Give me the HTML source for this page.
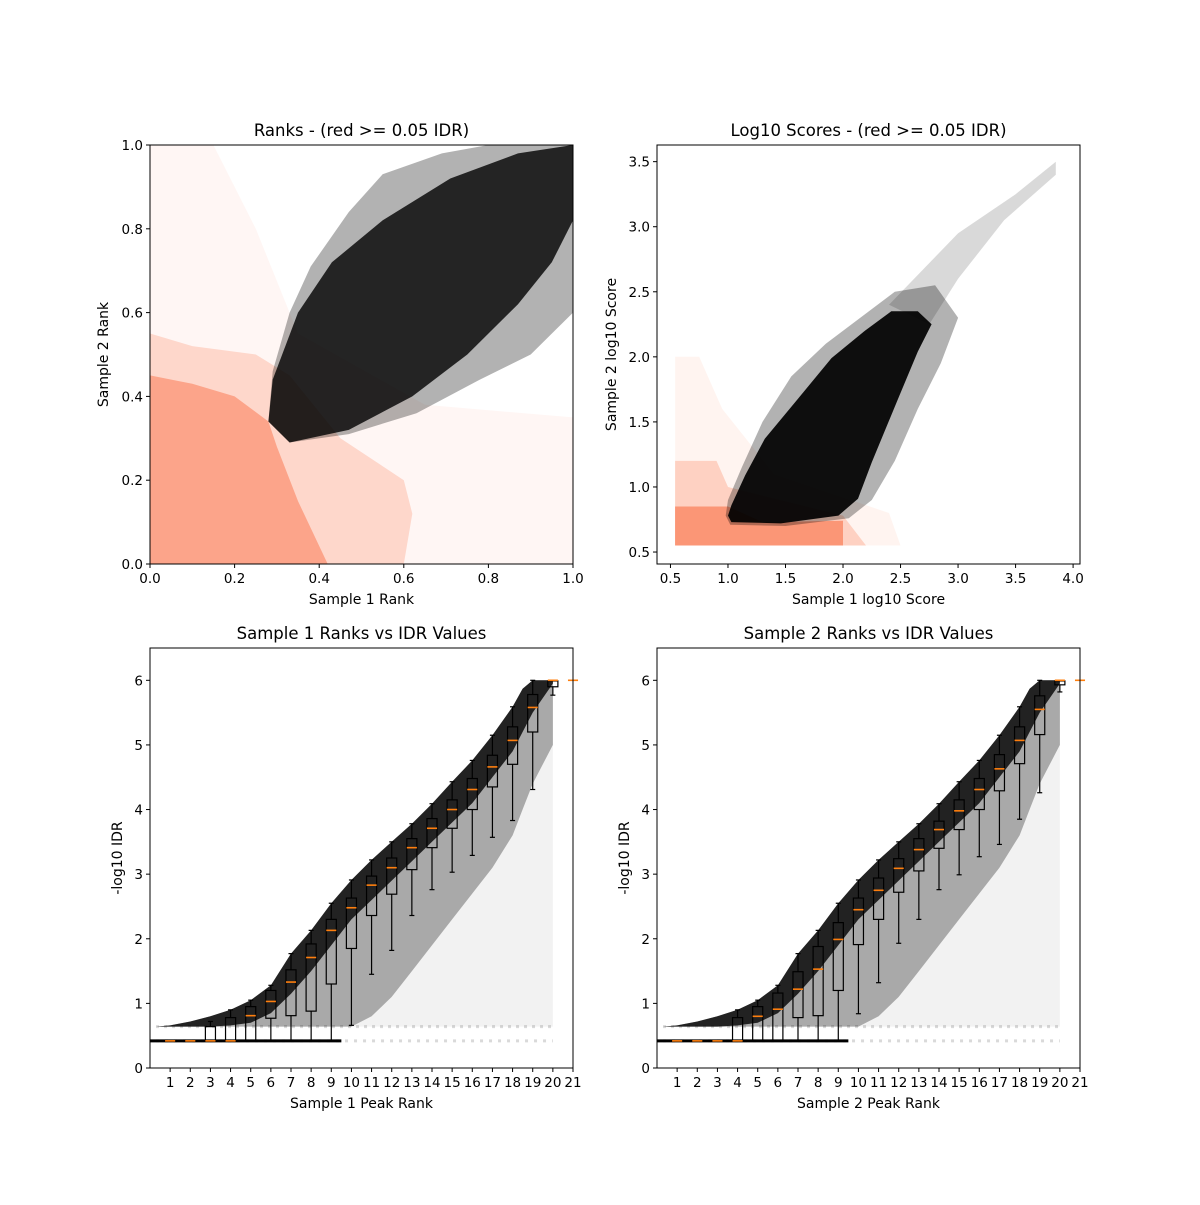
<!DOCTYPE html>
<html><head><meta charset="utf-8">
<style>
html,body{margin:0;padding:0;background:#fff;}
svg text{font-family:"DejaVu Sans","Liberation Sans",sans-serif;fill:#000;}
</style></head>
<body>
<svg id="fig" width="1200" height="1200" viewBox="0 0 1200 1200" xmlns="http://www.w3.org/2000/svg"></svg>
<script>
// ---------- data ----------
const rankBlackX = [0.28,0.29,0.35,0.43,0.55,0.71,0.87,1.00,1.00,0.95,0.87,0.75,0.62,0.47,0.33];
const rankBlackY = [0.34,0.44,0.60,0.72,0.82,0.92,0.98,1.00,0.82,0.72,0.62,0.50,0.40,0.32,0.29];
const rankBlackOuterX = [0.28,0.29,0.33,0.38,0.47,0.55,0.69,0.80,1.00,1.00,0.90,0.78,0.63,0.47,0.33];
const rankBlackOuterY = [0.34,0.46,0.60,0.71,0.84,0.93,0.98,1.00,1.00,0.60,0.50,0.44,0.36,0.31,0.29];
const rankSalmonDenseX = [0,0.42,0.35,0.30,0.28,0.20,0.10,0];
const rankSalmonDenseY = [0,0,0.15,0.28,0.34,0.40,0.43,0.45];
const rankSalmonMidX = [0,0.60,0.62,0.60,0.45,0.33,0.25,0.10,0];
const rankSalmonMidY = [0,0,0.12,0.20,0.30,0.45,0.50,0.52,0.55];
const rankSalmonSparseX = [0,1.0,1.0,0.65,0.35,0.25,0.15,0];
const rankSalmonSparseY = [0,0,0.35,0.38,0.55,0.80,1.0,1.0];
const scoreBlackX = [1.00,1.03,1.46,1.96,2.13,2.25,2.48,2.65,2.77,2.65,2.42,2.19,1.90,1.61,1.32,1.15,1.03];
const scoreBlackY = [0.78,0.73,0.72,0.78,0.91,1.19,1.68,2.04,2.25,2.35,2.35,2.20,1.99,1.68,1.37,1.09,0.86];
const scoreHaloX = [0.98,1.02,1.50,2.05,2.25,2.45,2.65,2.85,3.00,2.80,2.45,2.15,1.85,1.55,1.30,1.12,1.00];
const scoreHaloY = [0.78,0.71,0.70,0.76,0.90,1.20,1.60,1.95,2.30,2.55,2.50,2.30,2.10,1.85,1.50,1.15,0.90];
const scoreTailX = [2.40,3.00,3.50,3.85,3.85,3.40,3.00,2.75];
const scoreTailY = [2.40,2.95,3.25,3.50,3.40,3.05,2.60,2.25];
const scoreSalmonDenseX = [0.54,2.00,2.00,1.30,1.00,0.54];
const scoreSalmonDenseY = [0.55,0.55,0.74,0.73,0.85,0.85];
const scoreSalmonMidX = [0.54,2.20,2.00,1.00,0.90,0.54];
const scoreSalmonMidY = [0.55,0.55,0.78,1.00,1.20,1.20];
const scoreSalmonSparseX = [0.54,2.50,2.40,1.40,0.95,0.75,0.54];
const scoreSalmonSparseY = [0.55,0.55,0.80,1.10,1.60,2.00,2.00];
const envX     = [0.3,1,2,3,4,5,6,7,8,9,10,11,12,13,14,15,16,17,18,18.5,19,20];
const envTop   = [0.64,0.66,0.72,0.80,0.90,1.05,1.28,1.77,2.13,2.55,2.91,3.22,3.50,3.78,4.09,4.43,4.76,5.15,5.59,5.87,6.0,6.0];
const envCore  = [0.64,0.64,0.64,0.64,0.66,0.70,0.85,1.15,1.50,1.90,2.30,2.60,2.90,3.20,3.50,3.80,4.10,4.50,4.90,5.20,5.50,5.95];
const envMid   = [0.64,0.64,0.64,0.64,0.64,0.64,0.64,0.64,0.64,0.64,0.64,0.80,1.10,1.50,1.90,2.30,2.70,3.10,3.60,4.00,4.40,5.00];
const boxRanks = [1,2,3,4,5,6,7,8,9,10,11,12,13,14,15,16,17,18,19,20,21];
const s1Med = [0.42,0.42,0.42,0.42,0.81,1.03,1.33,1.71,2.13,2.48,2.83,3.10,3.41,3.71,4.00,4.31,4.66,5.07,5.58,6.00,6.00];
const s1Q1  = [0.42,0.42,0.42,0.42,0.42,0.77,0.81,0.88,1.30,1.85,2.36,2.69,3.07,3.41,3.71,4.00,4.35,4.70,5.20,5.90,6.00];
const s1Q3  = [0.42,0.42,0.64,0.78,0.95,1.20,1.52,1.92,2.30,2.63,2.97,3.25,3.55,3.86,4.15,4.48,4.84,5.28,5.78,5.99,6.00];
const s1Lo  = [0.42,0.42,0.42,0.42,0.42,0.42,0.42,0.42,0.42,0.66,1.45,1.82,2.36,2.76,3.03,3.29,3.57,3.83,4.31,5.77,6.00];
const s1Hi  = [0.42,0.42,0.72,0.90,1.05,1.28,1.77,2.13,2.55,2.91,3.22,3.50,3.78,4.09,4.43,4.76,5.15,5.59,6.00,6.00,6.00];
const s2Med = [0.42,0.42,0.42,0.42,0.80,0.91,1.22,1.53,1.99,2.45,2.75,3.09,3.38,3.69,3.98,4.31,4.63,5.07,5.55,6.00,6.00];
const s2Q1  = [0.42,0.42,0.42,0.42,0.42,0.42,0.78,0.81,1.20,1.91,2.30,2.72,3.05,3.40,3.69,4.00,4.29,4.71,5.16,5.93,6.00];
const s2Q3  = [0.42,0.42,0.42,0.78,0.95,1.16,1.49,1.88,2.25,2.63,2.94,3.24,3.55,3.82,4.15,4.48,4.85,5.28,5.76,5.99,6.00];
const s2Lo  = [0.42,0.42,0.42,0.42,0.42,0.42,0.42,0.42,0.42,0.84,1.32,1.93,2.30,2.76,2.99,3.27,3.46,3.85,4.26,5.82,6.00];
const s2Hi  = [0.42,0.42,0.42,0.90,1.05,1.28,1.77,2.13,2.55,2.91,3.22,3.50,3.78,4.09,4.43,4.76,5.15,5.59,6.00,6.00,6.00];
const rankTicks = [0,0.2,0.4,0.6,0.8,1.0];
const rankTickLabels = ["0.0","0.2","0.4","0.6","0.8","1.0"];
const scoreXTicks = [0.5,1.0,1.5,2.0,2.5,3.0,3.5,4.0];
const scoreXTickLabels = ["0.5","1.0","1.5","2.0","2.5","3.0","3.5","4.0"];
const scoreYTicks = [0.5,1.0,1.5,2.0,2.5,3.0,3.5];
const scoreYTickLabels = ["0.5","1.0","1.5","2.0","2.5","3.0","3.5"];
const idrYTicks = [0,1,2,3,4,5,6];
const idrYTickLabels = ["0","1","2","3","4","5","6"];
const peakTicks = [1,2,3,4,5,6,7,8,9,10,11,12,13,14,15,16,17,18,19,20,21];
const peakTickLabels = ["1","2","3","4","5","6","7","8","9","10","11","12","13","14","15","16","17","18","19","20","21"];

// ---------- drawing ----------
const NS = "http://www.w3.org/2000/svg";
const fig = document.getElementById("fig");
function mk(tag, attrs, parent){
  const e = document.createElementNS(NS, tag);
  for (const k in attrs) e.setAttribute(k, attrs[k]);
  (parent||fig).appendChild(e);
  return e;
}
function makeAxes(px0,px1,py0,py1,xmin,xmax,ymin,ymax){
  return {px0,px1,py0,py1,
    sx: v => px0 + (v - xmin)/(xmax - xmin)*(px1 - px0),
    sy: v => py1 - (v - ymin)/(ymax - ymin)*(py1 - py0)};
}
function poly(ax, xs, ys, fill, op, name, parent){
  const pts = xs.map((x,i)=> ax.sx(x).toFixed(1)+","+ax.sy(ys[i]).toFixed(1)).join(" ");
  const p = mk("polygon",{points:pts, fill:fill, "fill-opacity":op}, parent);
  
  
  return p;
}
function band(ax, xs, top, bot, fill, op, name, parent){
  const X = xs.concat(xs.slice().reverse());
  const Y = top.concat(bot.slice().reverse());
  return poly(ax, X, Y, fill, op, name, parent);
}
function frame(ax, key, title, xlabel, ylabel, xt, xtl, yt, ytl, ylabX){
  const g = mk("g",{});
  
  
  const r = mk("rect",{x:ax.px0,y:ax.py0,width:ax.px1-ax.px0,height:ax.py1-ax.py0,fill:"none",stroke:"#000","stroke-width":1}, g);
  
  
  xt.forEach((v,i)=>{
    const x = ax.sx(v);
    const t = mk("line",{x1:x,x2:x,y1:ax.py1,y2:ax.py1+4,stroke:"#000","stroke-width":1}, g);
    
    
    const l = mk("text",{x:x,y:ax.py1+19,"font-size":"13.5","text-anchor":"middle"}, g);
    
    
    l.textContent = xtl[i];
  });
  yt.forEach((v,i)=>{
    const y = ax.sy(v);
    const t = mk("line",{x1:ax.px0-4,x2:ax.px0,y1:y,y2:y,stroke:"#000","stroke-width":1}, g);
    
    
    const l = mk("text",{x:ax.px0-7,y:y+5,"font-size":"13.5","text-anchor":"end"}, g);
    
    
    l.textContent = ytl[i];
  });
  const tt = mk("text",{x:(ax.px0+ax.px1)/2,y:ax.py0-9,"font-size":"16.5","text-anchor":"middle"}, g);
  
  
  tt.textContent = title;
  const xl = mk("text",{x:(ax.px0+ax.px1)/2,y:ax.py1+40,"font-size":"14","text-anchor":"middle"}, g);
  
  
  xl.textContent = xlabel;
  const cy = (ax.py0+ax.py1)/2;
  const yl = mk("text",{x:ylabX,y:cy,"font-size":"14","text-anchor":"middle",transform:"rotate(-90 "+ylabX+" "+cy+")"}, g);
  
  
  yl.textContent = ylabel;
}
const SAL = "#fb8f6e";

// Top-left
const axTL = makeAxes(150,573,145,564,0,1,0,1);
const gTL = mk("g",{});


poly(axTL, rankSalmonSparseX, rankSalmonSparseY, SAL, 0.08, 'salmon-sparse-points', gTL);
poly(axTL, rankSalmonMidX, rankSalmonMidY, SAL, 0.3, 'salmon-mid-points', gTL);
poly(axTL, rankSalmonDenseX, rankSalmonDenseY, SAL, 0.7, 'salmon-dense-points', gTL);
poly(axTL, rankBlackOuterX, rankBlackOuterY, "#000", 0.3, 'black-sparse-points', gTL);
poly(axTL, rankBlackX, rankBlackY, "#000", 0.8, 'black-points', gTL);
frame(axTL,'ranks','Ranks - (red >= 0.05 IDR)','Sample 1 Rank','Sample 2 Rank',rankTicks,rankTickLabels,rankTicks,rankTickLabels,108);

// Top-right
const axTR = makeAxes(657,1080,145,564,0.383,4.06,0.408,3.628);
const gTR = mk("g",{});


poly(axTR, scoreSalmonSparseX, scoreSalmonSparseY, SAL, 0.1, 'salmon-sparse-points', gTR);
poly(axTR, scoreSalmonMidX, scoreSalmonMidY, SAL, 0.35, 'salmon-mid-points', gTR);
poly(axTR, scoreSalmonDenseX, scoreSalmonDenseY, SAL, 0.9, 'salmon-dense-points', gTR);
poly(axTR, scoreTailX, scoreTailY, "#000", 0.15, 'black-tail-points', gTR);
poly(axTR, scoreHaloX, scoreHaloY, "#000", 0.3, 'black-halo-points', gTR);
poly(axTR, scoreBlackX, scoreBlackY, "#000", 0.92, 'black-points', gTR);
frame(axTR,'scores','Log10 Scores - (red >= 0.05 IDR)','Sample 1 log10 Score','Sample 2 log10 Score',scoreXTicks,scoreXTickLabels,scoreYTicks,scoreYTickLabels,616);

// Bottom panels
function idrPanel(ax, key, med, q1, q3, lo, hi, title, xlabel, ylabX, denseEnd){
  const g = mk("g",{});
  
  
  const floor = envX.map(()=>0.64);
  band(ax, envX, envTop, floor, "#000", 0.05, key + '-sparse-points', g);
  band(ax, envX, envTop, envMid, "#000", 0.3, key + '-mid-points', g);
  band(ax, envX, envTop, envCore, "#000", 0.8, key + '-core-points', g);
  const r064 = mk("line",{x1:ax.sx(0.3),x2:ax.sx(20),y1:ax.sy(0.64),y2:ax.sy(0.64),stroke:"#000","stroke-opacity":0.15,"stroke-width":3,"stroke-dasharray":"3 5"}, g);
  
  
  const dl = mk("line",{x1:ax.sx(0.3),x2:ax.sx(20),y1:ax.sy(0.42),y2:ax.sy(0.42),stroke:"#000","stroke-opacity":0.15,"stroke-width":3,"stroke-dasharray":"3 6"}, g);
  
  
  const zl = mk("line",{x1:ax.px0,x2:ax.sx(denseEnd),y1:ax.sy(0.42),y2:ax.sy(0.42),stroke:"#000","stroke-width":3}, g);
  
  
  boxRanks.forEach((rk,i)=>{
    const bg = mk("g",{}, g);
    
    
    const x = ax.sx(rk), hw = (ax.sx(0.25)-ax.sx(0)), cw = (ax.sx(0.125)-ax.sx(0));
    if (q3[i] > q1[i]) {
      const b = mk("rect",{x:x-hw,y:ax.sy(q3[i]),width:2*hw,height:ax.sy(q1[i])-ax.sy(q3[i]),fill:"none",stroke:"#000","stroke-width":1.2}, bg);
      
      
    }
    if (lo[i] < q1[i]) {
      const w = mk("line",{x1:x,x2:x,y1:ax.sy(q1[i]),y2:ax.sy(lo[i]),stroke:"#000","stroke-width":1.2}, bg);
      
      
      const c = mk("line",{x1:x-cw,x2:x+cw,y1:ax.sy(lo[i]),y2:ax.sy(lo[i]),stroke:"#000","stroke-width":1.2}, bg);
      
      
    }
    if (hi[i] > q3[i]) {
      const w = mk("line",{x1:x,x2:x,y1:ax.sy(q3[i]),y2:ax.sy(hi[i]),stroke:"#000","stroke-width":1.2}, bg);
      
      
      const c = mk("line",{x1:x-cw,x2:x+cw,y1:ax.sy(hi[i]),y2:ax.sy(hi[i]),stroke:"#000","stroke-width":1.2}, bg);
      
      
    }
    const m = mk("line",{x1:x-hw,x2:x+hw,y1:ax.sy(med[i]),y2:ax.sy(med[i]),stroke:"#ff7f0e","stroke-width":1.6}, bg);
    
    
  });
  frame(ax, key, title, xlabel, '-log10 IDR', peakTicks, peakTickLabels, idrYTicks, idrYTickLabels, ylabX);
}
const axBL = makeAxes(150,573,648,1068,0,21,0,6.5);
idrPanel(axBL,'sample1-idr',s1Med,s1Q1,s1Q3,s1Lo,s1Hi,'Sample 1 Ranks vs IDR Values','Sample 1 Peak Rank',122,9.5);
const axBR = makeAxes(657,1080,648,1068,0,21,0,6.5);
idrPanel(axBR,'sample2-idr',s2Med,s2Q1,s2Q3,s2Lo,s2Hi,'Sample 2 Ranks vs IDR Values','Sample 2 Peak Rank',629,9.5);
</script>
</body></html>
